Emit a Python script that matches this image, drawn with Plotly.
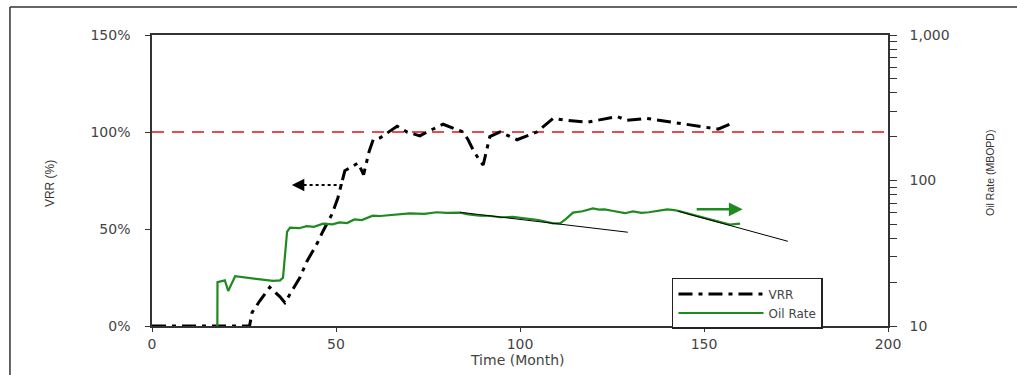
import math
import plotly.graph_objects as go

# ---- data ----
vrr_month = [0, 26.5, 27.2, 29.3, 32, 34.8, 36.1, 40.2, 42, 45, 46.5, 49, 50.5, 52.4, 56, 57.5,
             59, 60.1, 62, 66.6, 69.3, 72.8, 74.7, 79.1, 84.5, 85.9, 87.2, 89.1, 90, 91.8, 94.6,
             99.2, 104.6, 109, 112.8, 118.2, 126.4, 129.1, 134.5, 140, 148.9, 153.8, 158.2]
vrr_pct = [0, 0, 7, 13, 20, 15, 12, 25, 33, 43, 49, 58, 66, 80, 84, 78,
           90, 96, 97, 103, 100, 98, 100, 104, 100, 96, 91, 85, 83, 97.6, 100,
           96, 100, 107, 106, 105, 108, 106, 107, 105.5, 103, 101.5, 105]

oil_month = [17.6, 17.8, 19.8, 20.7, 22.6, 25.8, 29.3, 32.9, 34.8, 35.6, 36.7, 37.5, 40, 42, 44,
             46.5, 49, 51, 53, 55, 57, 60, 62, 64.7, 67, 70, 74, 77.4, 80, 83.7, 86, 89, 92,
             94.6, 98, 102, 105, 109, 110.9, 112.5, 114.4, 117, 119.8, 121.5, 123, 125, 127,
             128.5, 130.7, 133, 135, 137.5, 140, 142, 143.5, 146, 149, 151.5, 154.3, 157, 159.8]
oil_rate = [1, 20.0, 20.6, 17.4, 22.0, 21.5, 21.0, 20.4, 20.6, 21.5, 44.3, 47.5, 47.0, 48.5, 48.0,
            50.5, 50.0, 51.5, 51.0, 54.0, 53.5, 57.3, 57.0, 58.0, 58.5, 59.5, 59.0, 60.5, 60.0,
            60.2, 58.5, 57.3, 57.0, 55.9, 56.2, 54.8, 53.5, 50.8, 50.8, 54.5, 60.2, 61.5, 64.2,
            63.0, 63.4, 62.0, 60.9, 59.6, 61.4, 60.0, 60.5, 62.0, 63.4, 62.5, 61.5, 59.0, 56.2,
            54.5, 51.9, 49.8, 50.6]

decline1_month = [83.7, 129.3]
decline1_rate = [60.5, 44.1]
decline2_month = [142.9, 172.8]
decline2_rate = [61.5, 38.2]

x_ticks = [0, 50, 100, 150, 200]
y_ticks = [0, 50, 100, 150]
y_text = ["0%", "50%", "100%", "150%"]
y2_ticks = [10, 20, 30, 40, 50, 60, 70, 80, 90, 100, 200, 300, 400, 500, 600, 700, 800, 900, 1000]
y2_text = ["10", "", "", "", "", "", "", "", "", "100", "", "", "", "", "", "", "", "", "1,000"]
target_vrr = 100

FONT = "DejaVu Sans"
TFONT = "Liberation Sans"
TXT = "#444444"
AX = "#333333"
GREEN = "#1f8a1f"

fig = go.Figure()
fig.add_trace(go.Scatter(x=vrr_month, y=vrr_pct, mode="lines", name="VRR",
                         line=dict(color="black", width=3, dash="14px,6px,4px,6px")))
fig.add_trace(go.Scatter(x=oil_month, y=oil_rate, mode="lines", name="Oil Rate", yaxis="y2",
                         line=dict(color=GREEN, width=2.2)))
fig.add_trace(go.Scatter(x=decline1_month, y=decline1_rate, mode="lines", yaxis="y2",
                         showlegend=False, line=dict(color="black", width=1)))
fig.add_trace(go.Scatter(x=decline2_month, y=decline2_rate, mode="lines", yaxis="y2",
                         showlegend=False, line=dict(color="black", width=1)))

shapes = [
    dict(type="line", xref="paper", yref="y", x0=0, x1=1, y0=target_vrr, y1=target_vrr,
         line=dict(color="#e3101a", width=1.6, dash="12px,8px"), layer="below"),
    # dotted shaft of the left arrow
    dict(type="line", xref="x", yref="y", x0=51.8, x1=40.5, y0=72.7, y1=72.7,
         line=dict(color="black", width=2, dash="dot")),
    # outer frame
    dict(type="line", xref="paper", yref="paper", x0=-0.193, x1=1.2, y0=1.096, y1=1.096,
         line=dict(color=AX, width=1.5)),
    dict(type="line", xref="paper", yref="paper", x0=-0.193, x1=-0.193, y0=1.096, y1=-0.2,
         line=dict(color=AX, width=1.5)),
]

g_y = math.log10(63.4)
annotations = [
    dict(x=38, y=72.7, ax=40.8, ay=72.7, xref="x", yref="y", axref="x", ayref="y",
         showarrow=True, arrowhead=2, arrowsize=1.25, arrowwidth=2, arrowcolor="black", text="",
         standoff=0),
    dict(x=160.5, y=g_y, ax=147.6, ay=g_y, xref="x", yref="y2", axref="x", ayref="y2",
         showarrow=True, arrowhead=2, arrowsize=1.1, arrowwidth=2.5, arrowcolor=GREEN, text="",
         standoff=0),
    dict(text="VRR (%)", xref="paper", yref="paper", x=-0.1386, y=0.491, showarrow=False,
         xanchor="center", yanchor="middle", textangle=-90,
         font=dict(family=TFONT, size=12, color="#333333")),
    dict(text="Oil Rate (MBOPD)", xref="paper", yref="paper", x=1.1386, y=0.526, showarrow=False,
         xanchor="center", yanchor="middle", textangle=-90,
         font=dict(family=TFONT, size=10.5, color="#333333")),
    dict(text="Time (Month)", xref="paper", yref="paper", x=0.497, y=-0.117, showarrow=False,
         xanchor="center", yanchor="middle", font=dict(family=FONT, size=14, color=TXT)),
]

fig.update_layout(
    width=1017, height=375,
    margin=dict(l=152, r=129, t=35, b=49),
    paper_bgcolor="white", plot_bgcolor="white",
    font=dict(family=FONT, size=13, color=TXT),
    showlegend=True,
    legend=dict(x=0.7065, y=0.165, xanchor="left", yanchor="top",
                bgcolor="white", bordercolor="#222222", borderwidth=1.5,
                font=dict(family=FONT, size=12, color=TXT), itemwidth=85,
                tracegroupgap=0, orientation="v"),
    xaxis=dict(range=[0, 200], tickvals=x_ticks, showgrid=False, zeroline=False,
               showline=True, linecolor=AX, linewidth=1.5, mirror=True,
               ticks="outside", ticklen=4, tickcolor=AX, ticklabelstandoff=0,
               tickfont=dict(size=14)),
    yaxis=dict(range=[0, 150], tickvals=y_ticks, ticktext=y_text, showgrid=False, zeroline=False,
               showline=True, linecolor=AX, linewidth=1.5,
               ticks="outside", ticklen=5, tickcolor=AX, ticklabelstandoff=12,
               tickfont=dict(size=14)),
    yaxis2=dict(type="log", range=[1, 3], overlaying="y", side="right",
                tickvals=y2_ticks, ticktext=y2_text, showgrid=False, zeroline=False,
                showline=True, linecolor=AX, linewidth=1.5,
                ticks="outside", ticklen=7, tickcolor=AX, ticklabelstandoff=10,
                tickfont=dict(size=14)),
    shapes=shapes,
    annotations=annotations,
)

fig.write_html("out.html")
